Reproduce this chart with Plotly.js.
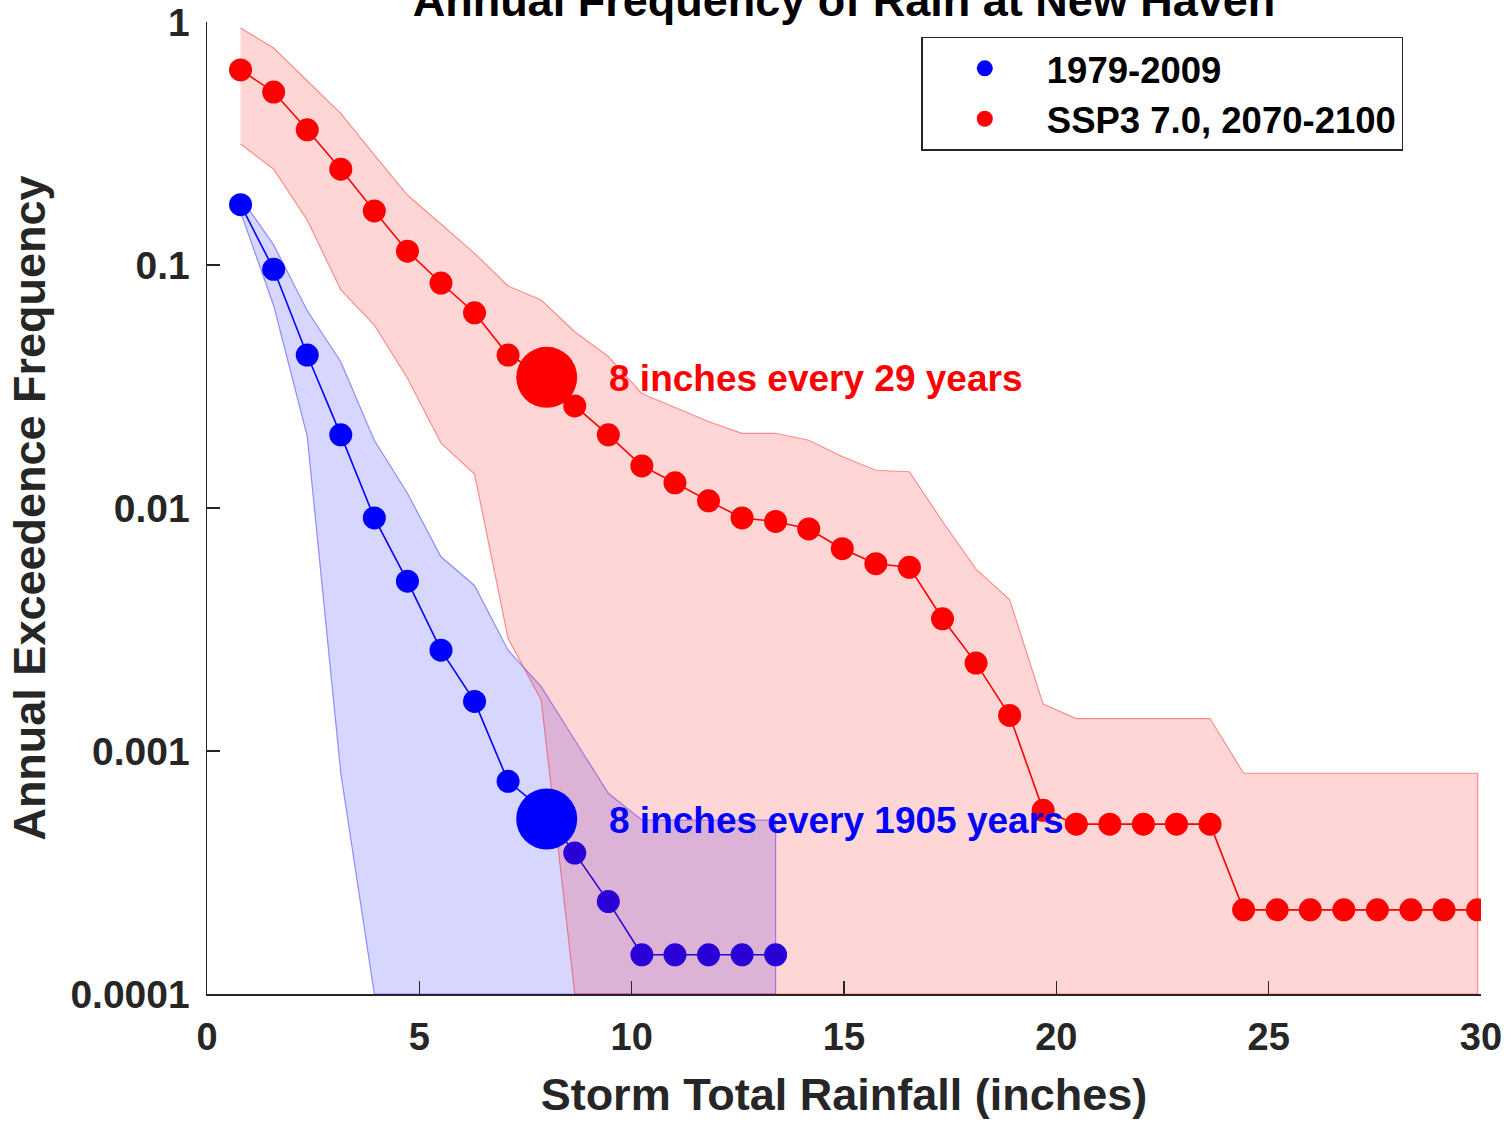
<!DOCTYPE html>
<html>
<head>
<meta charset="utf-8">
<script src="https://cdn.plot.ly/plotly-3.0.1.min.js"></script>
<style>
  html, body { margin: 0; padding: 0; background: #ffffff; }
  #chart { width: 1511px; height: 1128px; }
</style>
</head>
<body>
<div id="chart"></div>
<script>
// Storm total rainfall bins (inches)
const rainfall = [0.79, 1.57, 2.36, 3.15, 3.94, 4.72, 5.51, 6.30, 7.09, 7.87,
  8.66, 9.45, 10.24, 11.02, 11.81, 12.60, 13.39, 14.17, 14.96, 15.75,
  16.54, 17.32, 18.11, 18.90, 19.69, 20.47, 21.26, 22.05, 22.83, 23.62,
  24.41, 25.20, 25.98, 26.77, 27.56, 28.35, 29.13, 29.92];

// 1979-2009 (blue): exceedance frequency and uncertainty band
const baseFreq  = [0.177, 0.096, 0.0426, 0.020, 0.0091, 0.0050, 0.0026, 0.0016, 0.00075, 0.00058,
  0.00038, 0.00024, 0.000145, 0.000145, 0.000145, 0.000145, 0.000145];
const baseUpper = [0.19, 0.121, 0.065, 0.040, 0.019, 0.0115, 0.0063, 0.0048, 0.0026, 0.00184,
  0.00111, 0.00067, 0.00052, 0.00052, 0.00052, 0.00052, 0.00052];
const baseLower = [0.165, 0.068, 0.0197, 0.00081, 0.0001, 0.0001, 0.0001, 0.0001, 0.0001, 0.0001,
  0.0001, 0.0001, 0.0001, 0.0001, 0.0001, 0.0001, 0.0001];

// SSP3 7.0, 2070-2100 (red): exceedance frequency and uncertainty band
const futFreq  = [0.635, 0.515, 0.36, 0.248, 0.167, 0.114, 0.0843, 0.0636, 0.0426, 0.036,
  0.0263, 0.020, 0.0149, 0.0127, 0.0107, 0.0091, 0.0088, 0.0082, 0.0068, 0.0059,
  0.0057, 0.0035, 0.0023, 0.0014, 0.00057, 0.0005, 0.0005, 0.0005, 0.0005, 0.0005,
  0.000222, 0.000222, 0.000222, 0.000222, 0.000222, 0.000222, 0.000222, 0.000222];
const futUpper = [0.945, 0.782, 0.573, 0.421, 0.284, 0.194, 0.1475, 0.1117, 0.082, 0.0718,
  0.0531, 0.042, 0.0296, 0.026, 0.0227, 0.0203, 0.0203, 0.019, 0.0163, 0.0143,
  0.0141, 0.0088, 0.0056, 0.0042, 0.00156, 0.00136, 0.00136, 0.00136, 0.00136, 0.00136,
  0.00081, 0.00081, 0.00081, 0.00081, 0.00081, 0.00081, 0.00081, 0.00081];
const futLower = [0.315, 0.248, 0.153, 0.079, 0.0566, 0.0342, 0.0185, 0.0138, 0.0029, 0.00162,
  0.0001, 0.0001, 0.0001, 0.0001, 0.0001, 0.0001, 0.0001, 0.0001, 0.0001, 0.0001,
  0.0001, 0.0001, 0.0001, 0.0001, 0.0001, 0.0001, 0.0001, 0.0001, 0.0001, 0.0001,
  0.0001, 0.0001, 0.0001, 0.0001, 0.0001, 0.0001, 0.0001, 0.0001];

// Highlighted 8-inch storm and its return periods (years)
const highlightInches = 8;
const returnYears = [1905, 29];   // [1979-2009, SSP3 7.0]

const seriesNames = ['1979-2009', 'SSP3 7.0, 2070-2100'];
const xTicks = [0, 5, 10, 15, 20, 25, 30];
const yTickVals = [0.0001, 0.001, 0.01, 0.1, 1];
const yTickText = ['0.0001', '0.001', '0.01', '0.1', '1'];

const BLUE = '#0000ff', RED = '#ff0000';
const FONT = 'Liberation Sans, Arial, Helvetica, sans-serif';

function band(xs, upper, lower, fill, edge) {
  const n = upper.length;
  const x = xs.slice(0, n);
  return {
    x: x.concat(x.slice().reverse()),
    y: upper.concat(lower.slice().reverse()),
    type: 'scatter', mode: 'lines', fill: 'toself',
    fillcolor: fill, line: { color: edge, width: 1.2 },
    hoverinfo: 'skip', showlegend: false
  };
}
function line(xs, ys, color) {
  return { x: xs.slice(0, ys.length), y: ys, type: 'scatter', mode: 'lines',
    line: { color: color, width: 1.6 }, showlegend: false, hoverinfo: 'skip' };
}
function dots(xs, ys, color, name) {
  return { x: xs.slice(0, ys.length), y: ys, type: 'scatter', mode: 'markers', name: name,
    marker: { color: color, size: 23, line: { width: 0 } } };
}

const traces = [
  band(rainfall, baseUpper, baseLower, 'rgba(0,0,255,0.16)', 'rgba(0,0,255,0.4)'),
  line(rainfall, baseFreq, BLUE),
  dots(rainfall, baseFreq, BLUE, seriesNames[0]),
  band(rainfall, futUpper, futLower, 'rgba(255,0,0,0.16)', 'rgba(255,0,0,0.4)'),
  line(rainfall, futFreq, RED),
  dots(rainfall, futFreq, RED, seriesNames[1]),
  { x: [highlightInches, highlightInches], y: returnYears.map(r => 1 / r),
    type: 'scatter', mode: 'markers', showlegend: false,
    marker: { color: [BLUE, RED], size: 61, line: { width: 0 } } }
];

const annColors = [BLUE, RED];
const annotations = returnYears.map((yr, i) => ({
  x: highlightInches, y: Math.log10(1 / yr), xref: 'x', yref: 'y',
  text: highlightInches + ' inches every ' + yr + ' years',
  showarrow: false, xanchor: 'left', yanchor: 'middle', xshift: 60, yshift: -1,
  font: { family: FONT, size: 37, color: annColors[i], weight: 'bold' }
}));

const layout = {
  width: 1511, height: 1128,
  margin: { l: 207, r: 30, t: 22, b: 134 },
  paper_bgcolor: '#ffffff', plot_bgcolor: '#ffffff',
  font: { family: FONT, weight: 'bold', color: '#262626' },
  title: {
    text: 'Annual Frequency of Rain at New Haven',
    font: { family: FONT, size: 45, color: '#000000', weight: 'bold' },
    x: 0.5, xref: 'paper', y: 1, yref: 'container', yanchor: 'middle'
  },
  xaxis: {
    range: [0, 30], tickmode: 'array', tickvals: xTicks,
    ticks: 'inside', ticklen: 13, tickwidth: 1.5, tickcolor: '#262626',
    showline: true, linecolor: '#262626', linewidth: 1.5,
    showgrid: false, zeroline: false, ticklabelstandoff: 9,
    tickfont: { family: FONT, size: 38, color: '#262626', weight: 'bold' },
    title: { text: 'Storm Total Rainfall (inches)', standoff: 21,
      font: { family: FONT, size: 45, color: '#262626', weight: 'bold' } }
  },
  yaxis: {
    type: 'log', range: [-4, 0], tickmode: 'array',
    tickvals: yTickVals, ticktext: yTickText,
    ticks: 'inside', ticklen: 13, tickwidth: 1.5, tickcolor: '#262626',
    showline: true, linecolor: '#262626', linewidth: 1.5,
    showgrid: false, zeroline: false, ticklabelstandoff: 8,
    tickfont: { family: FONT, size: 39, color: '#262626', weight: 'bold' },
    title: { text: 'Annual Exceedence Frequency', standoff: 10,
      font: { family: FONT, size: 45, color: '#262626', weight: 'bold' } }
  },
  legend: {
    x: 0.939, y: 0.985, xanchor: 'right', yanchor: 'top',
    bgcolor: '#ffffff', bordercolor: '#262626', borderwidth: 1.5,
    font: { family: FONT, size: 36.5, color: '#000000', weight: 'bold' },
    itemwidth: 114, tracegroupgap: 0
  },
  annotations: annotations,
  showlegend: true
};

Plotly.newPlot('chart', traces, layout, { displayModeBar: false, staticPlot: true });
</script>
</body>
</html>
